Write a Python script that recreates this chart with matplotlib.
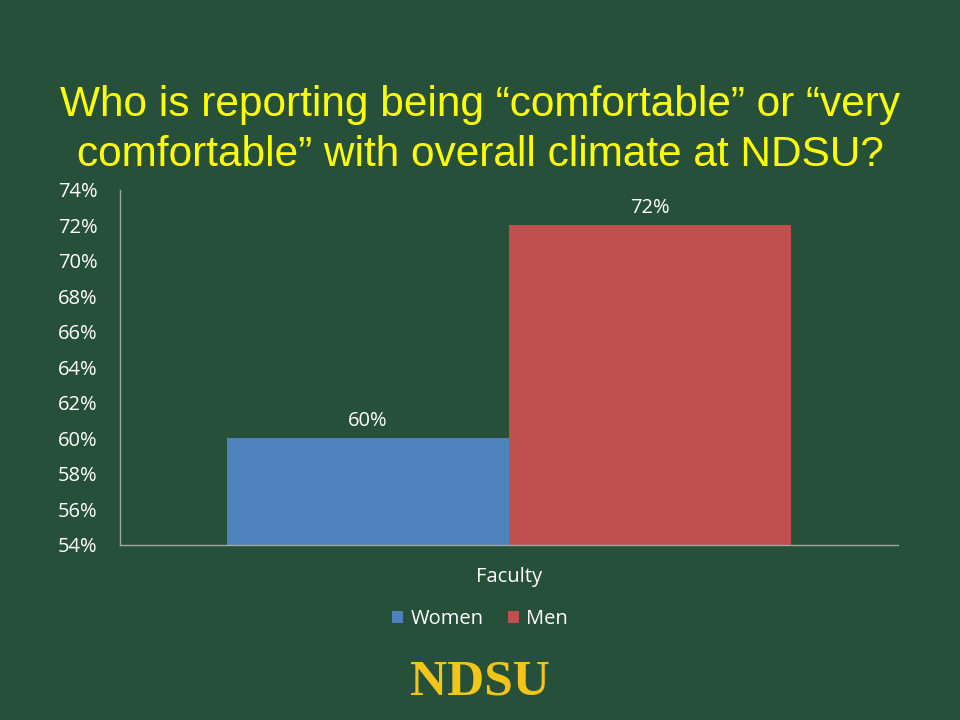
"""
Comfort with overall climate at NDSU - faculty by gender
"""
import matplotlib
matplotlib.use('Agg')
import matplotlib.pyplot as plt
from matplotlib import font_manager
from matplotlib.ticker import FuncFormatter

# data
groups = ['Women', 'Men']
values = [60, 72]
category = 'Faculty'
bar_colors = ['#4F81BD', '#C0504D']
y_ticks = list(range(54, 75, 2))

bg = '#27503A'
label_font = ['Open Sans', 'DejaVu Sans']
fs = 14.5


def regular_font(name):
    # pick the plain (not narrow) regular face of a family
    for f in font_manager.fontManager.ttflist:
        if (f.name == name and f.style == 'normal' and f.weight in (400, 'normal')
                and 'narrow' not in f.fname.lower()):
            return font_manager.FontProperties(fname=f.fname)
    return font_manager.FontProperties(family='DejaVu Sans')


title_fp = regular_font('Liberation Sans')
title_fp.set_size(30.5)

fig = plt.figure(figsize=(9.6, 7.2), dpi=100, facecolor=bg)
ax = fig.add_axes([0.125, 0.2431, 0.8104, 0.4931])
ax.set_facecolor(bg)

bar_w = 0.3625
offsets = [-bar_w / 2, bar_w / 2]
for name, val, col, off in zip(groups, values, bar_colors, offsets):
    ax.bar(off, val - 54, bottom=54, width=bar_w, color=col, label=name)
    ax.text(off, val + 0.4, f'{val}%', ha='center', va='bottom',
            color='white', fontsize=fs, family=label_font)

ax.set_xlim(-0.5, 0.5)
ax.set_ylim(54, 74)
ax.set_yticks(y_ticks)
ax.yaxis.set_major_formatter(FuncFormatter(lambda v, p: f'{v:.0f}%'))
ax.set_xticks([0])
ax.set_xticklabels([category])

for lab in ax.get_yticklabels() + ax.get_xticklabels():
    lab.set_family(label_font)
    lab.set_color('white')
    lab.set_fontsize(fs)
ax.tick_params(axis='y', length=0, pad=16)
ax.tick_params(axis='x', length=0, pad=16)

for side in ['top', 'right']:
    ax.spines[side].set_visible(False)
for side in ['left', 'bottom']:
    ax.spines[side].set_color('#9AA89F')
    ax.spines[side].set_linewidth(1)

handles, labels = ax.get_legend_handles_labels()
leg = fig.legend(handles, labels, loc='center', bbox_to_anchor=(0.5, 0.14), ncol=2,
                 frameon=False, handlelength=0.55, handleheight=0.55,
                 handletextpad=0.35, columnspacing=1.2,
                 prop={'family': label_font, 'size': fs})
for t in leg.get_texts():
    t.set_color('white')

fig.text(0.5, 0.82,
         'Who is reporting being \u201ccomfortable\u201d or \u201cvery\n'
         'comfortable\u201d with overall climate at NDSU?',
         ha='center', va='center', color='#FFFF00',
         fontproperties=title_fp, linespacing=1.32)

fig.text(0.5, 0.052, 'NDSU', ha='center', va='center', color='#F2C519',
         fontsize=37, fontweight='bold', family=['Liberation Serif', 'DejaVu Serif'])

plt.savefig('out.png', dpi=100, facecolor=bg)
plt.close()
